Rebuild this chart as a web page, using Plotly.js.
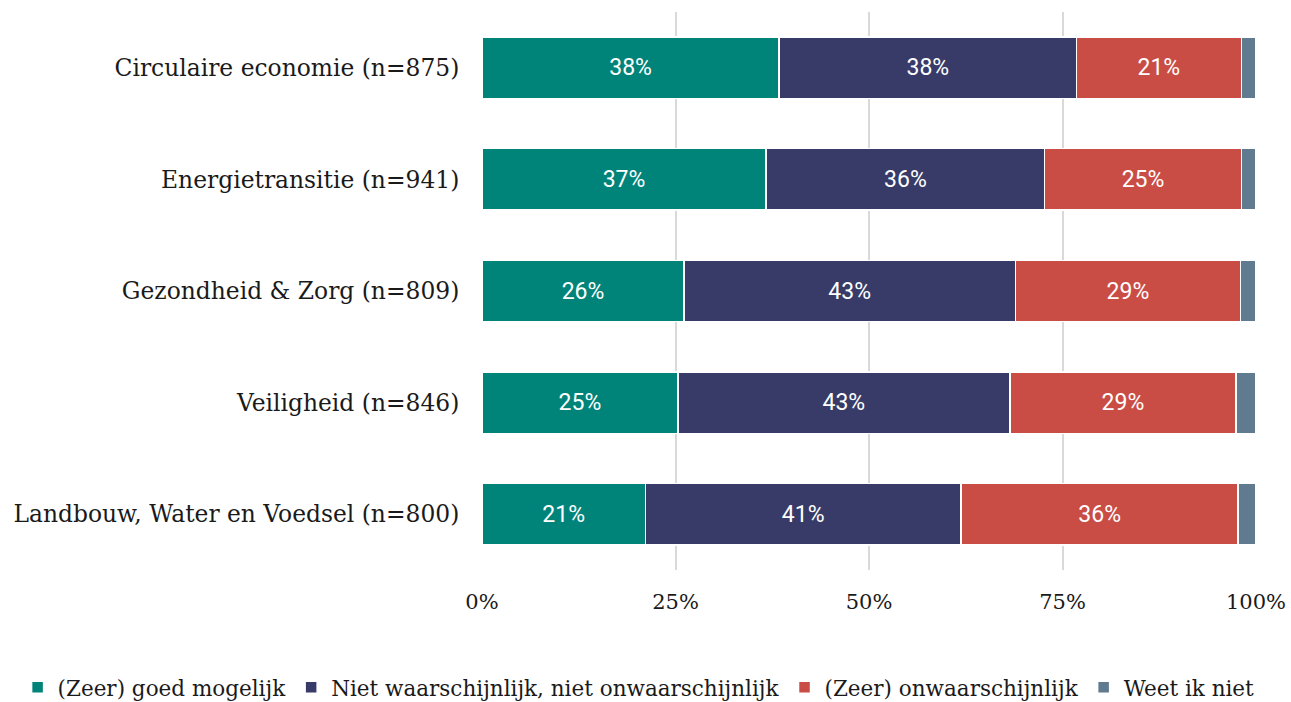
<!DOCTYPE html>
<html>
<head>
<meta charset="utf-8">
<script src="https://cdn.plot.ly/plotly-3.0.1.min.js"></script>
<style>
  html, body { margin: 0; padding: 0; background: #fff; }
  #chart { width: 1291px; height: 702px; }
</style>
</head>
<body>
<div id="chart"></div>
<script>
// Categorieën (van boven naar beneden)
const categories = [
    'Circulaire economie (n=875)',
    'Energietransitie (n=941)',
    'Gezondheid & Zorg (n=809)',
    'Veiligheid (n=846)',
    'Landbouw, Water en Voedsel (n=800)'
];

// Aandelen per antwoord (in %)
const goedMogelijk = [38.4, 36.7, 26.1, 25.3, 21.1];
const nietWaarschijnlijk = [38.4, 36.0, 42.8, 42.9, 40.8];
const onwaarschijnlijk = [21.3, 25.4, 29.1, 29.2, 35.8];
const weetNiet = [1.9, 1.9, 2.0, 2.6, 2.3];

const seriesNames = [
    '(Zeer) goed mogelijk',
    'Niet waarschijnlijk, niet onwaarschijnlijk',
    '(Zeer) onwaarschijnlijk',
    'Weet ik niet'
];
const seriesColors = ['#00847a', '#383b68', '#ca4d45', '#607b8f'];

const tickVals = [0, 25, 50, 75, 100];
const tickText = ['0%', '25%', '50%', '75%', '100%'];

const serif = 'DejaVu Serif, Liberation Serif, serif';

function makeTrace(values, i, showText) {
    return {
        type: 'bar',
        orientation: 'h',
        name: seriesNames[i],
        y: categories,
        x: values,
        marker: { color: seriesColors[i], line: { color: '#ffffff', width: 1.5 } },
        text: showText ? values.map(v => Math.round(v) + '%') : null,
        textposition: showText ? 'inside' : 'none',
        insidetextanchor: 'middle',
        textangle: 0,
        textfont: { family: 'Roboto, sans-serif', size: 23, color: '#ffffff' },
        hoverinfo: 'name+x'
    };
}

const data = [
    makeTrace(goedMogelijk, 0, true),
    makeTrace(nietWaarschijnlijk, 1, true),
    makeTrace(onwaarschijnlijk, 2, true),
    makeTrace(weetNiet, 3, false)
];

const layout = {
    width: 1291,
    height: 702,
    barmode: 'stack',
    bargap: 0.45,
    margin: { t: 12, r: 35, b: 132, l: 482, autoexpand: false },
    paper_bgcolor: '#ffffff',
    plot_bgcolor: '#ffffff',
    font: { family: serif, size: 20, color: '#1a1a1a' },
    xaxis: {
        range: [0, 100],
        tickvals: tickVals,
        ticktext: tickText,
        showgrid: true,
        gridcolor: '#d9d9d9',
        gridwidth: 2,
        zeroline: false,
        ticks: 'outside',
        ticklen: 13,
        tickcolor: 'rgba(0,0,0,0)',
        tickfont: { family: serif, size: 21, color: '#1a1a1a' },
        fixedrange: true
    },
    yaxis: {
        categoryorder: 'array',
        categoryarray: categories.slice().reverse(),
        ticks: 'outside',
        ticklen: 17,
        tickcolor: 'rgba(0,0,0,0)',
        tickfont: { family: serif, size: 23.4, color: '#1a1a1a' },
        showgrid: false,
        zeroline: false,
        fixedrange: true
    },
    legend: {
        orientation: 'h',
        x: -0.6,
        xanchor: 'left',
        y: -0.21,
        yanchor: 'middle',
        font: { family: serif, size: 21.5, color: '#1a1a1a' },
        traceorder: 'normal',
        itemwidth: 30,
        bgcolor: 'rgba(0,0,0,0)'
    },
    showlegend: true
};

Plotly.newPlot('chart', data, layout, { displayModeBar: false, staticPlot: true });
</script>
</body>
</html>
